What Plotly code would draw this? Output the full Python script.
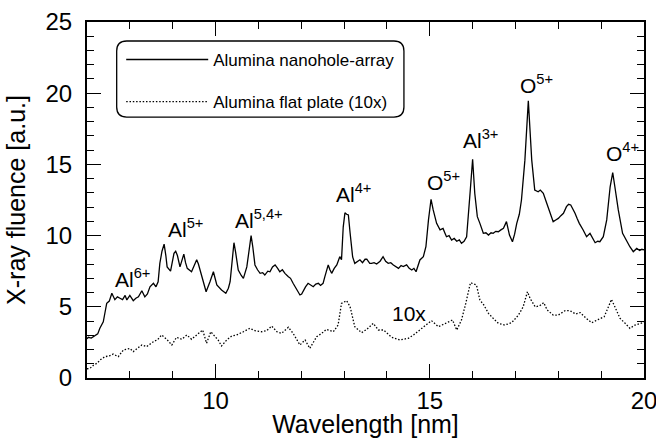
import plotly.graph_objects as go

# Alumina nanohole-array (solid)
nano_x = [7.00, 7.03, 7.10, 7.19, 7.25, 7.30, 7.38, 7.42, 7.46, 7.52, 7.58, 7.65, 7.71, 7.77, 7.83, 7.89, 7.93,
          8.00, 8.04, 8.08, 8.14, 8.20, 8.28, 8.35, 8.41, 8.47, 8.55, 8.61, 8.66, 8.70, 8.75, 8.80, 8.84, 8.87,
          8.95, 9.03, 9.07, 9.11, 9.17, 9.22, 9.26, 9.30, 9.34, 9.44, 9.50, 9.56, 9.60, 9.64, 9.70, 9.78, 9.87,
          9.95, 10.03, 10.10, 10.14, 10.24, 10.30, 10.34, 10.38, 10.43, 10.47, 10.53, 10.60, 10.65, 10.73, 10.78,
          10.83, 10.87, 10.92, 10.98, 11.04, 11.10, 11.15, 11.22, 11.27, 11.33, 11.39, 11.45, 11.50, 11.56, 11.62,
          11.70, 11.75, 11.81, 11.88, 11.93, 11.97, 12.01, 12.05, 12.10, 12.16, 12.22, 12.28, 12.34, 12.40, 12.45,
          12.51, 12.55, 12.59, 12.63, 12.67, 12.71, 12.77, 12.83, 12.90, 12.94, 12.98, 13.02, 13.06, 13.10, 13.14,
          13.20, 13.25, 13.31, 13.37, 13.43, 13.49, 13.53, 13.60, 13.64, 13.70, 13.76, 13.84, 13.91, 13.97, 14.03,
          14.09, 14.15, 14.21, 14.27, 14.33, 14.38, 14.46, 14.52, 14.58, 14.63, 14.68, 14.73, 14.77, 14.85, 14.91,
          14.97, 15.03, 15.08, 15.12, 15.16, 15.24, 15.31, 15.35, 15.39, 15.45, 15.51, 15.57, 15.63, 15.69, 15.74,
          15.80, 15.86, 15.94, 16.00, 16.05, 16.11, 16.17, 16.25, 16.31, 16.37, 16.43, 16.48, 16.54, 16.60, 16.66,
          16.72, 16.79, 16.86, 16.93, 16.98, 17.03, 17.09, 17.14, 17.22, 17.30, 17.38, 17.45, 17.53, 17.58, 17.65,
          17.73, 17.81, 17.88, 17.94, 18.00, 18.06, 18.12, 18.19, 18.24, 18.29, 18.34, 18.39, 18.44, 18.49, 18.58,
          18.66, 18.74, 18.80, 18.86, 18.92, 18.97, 19.05, 19.13, 19.21, 19.27, 19.32, 19.40, 19.50, 19.60, 19.67,
          19.75, 19.83, 19.90, 19.95, 20.00]
nano_y = [2.75, 2.86, 2.80, 3.00, 3.10, 3.50, 3.95, 4.60, 5.24, 5.40, 5.95, 5.50, 5.70, 5.60, 5.50, 5.80, 5.48,
          5.80, 5.60, 5.43, 5.60, 5.70, 6.13, 5.70, 5.90, 6.40, 6.65, 6.40, 6.76, 8.05, 8.90, 9.40, 8.60, 7.80,
          7.50, 8.75, 8.90, 8.60, 7.80, 8.30, 8.70, 8.10, 7.70, 7.46, 7.90, 8.30, 8.00, 7.60, 7.00, 6.06, 6.76,
          7.46, 6.53, 6.30, 6.18, 5.95, 6.30, 6.76, 8.20, 9.50, 8.80, 7.58, 7.20, 7.00, 7.80, 9.00,
          10.00, 9.20, 7.94, 7.60, 7.35, 7.40, 7.23, 7.50, 7.46, 7.80, 7.94, 7.70, 7.46, 7.60, 7.35,
          7.11, 7.00, 6.65, 6.30, 6.00, 5.83, 5.90, 6.18, 6.40, 6.65, 6.50, 6.41, 6.60, 6.65, 6.50,
          6.65, 7.10, 7.58, 7.94, 7.60, 7.35, 7.70, 7.94, 8.52, 8.30, 10.60, 11.60, 11.50, 11.45, 10.20,
          8.50, 8.05, 8.20, 8.30, 8.10, 8.34, 8.34, 8.05, 8.05, 8.10, 8.00, 8.20, 8.52, 8.20, 8.05,
          8.10, 7.94, 7.80, 7.70, 7.90, 7.82, 7.94, 7.70, 7.58, 7.70, 7.46, 7.90, 8.29, 8.52, 9.22,
          11.10, 12.55, 11.80, 11.30, 10.86, 10.40, 10.50, 10.20, 9.92, 10.00, 9.69, 9.80, 9.60, 9.70, 9.46,
          9.60, 9.92, 12.97, 15.36, 12.97, 11.33, 10.86, 10.16, 10.20, 10.04, 10.20, 10.16, 10.30, 10.27, 10.40,
          10.51, 10.98, 10.04, 9.57, 10.10, 10.86, 11.50, 12.50, 15.30, 19.47, 15.30, 13.20, 13.08, 13.20, 12.97,
          12.27, 11.57, 10.98, 11.10, 11.21, 11.40, 11.57, 12.03, 12.20, 12.15, 11.90, 11.57, 11.20, 10.86, 10.39,
          9.92, 10.16, 9.80, 9.50, 9.60, 9.57, 9.92, 11.10, 13.43, 14.42, 13.43, 11.80, 10.16, 9.57, 9.22,
          8.87, 9.10, 8.95, 9.04, 9.00]

# Alumina flat plate, x10 (dotted)
flat_x = [7.00, 7.07, 7.15, 7.23, 7.32, 7.42, 7.52, 7.61, 7.73, 7.85, 8.00, 8.08, 8.18, 8.28, 8.39, 8.47, 8.55,
          8.65, 8.74, 8.86, 8.98, 9.09, 9.21, 9.33, 9.44, 9.56, 9.70, 9.79, 9.89, 9.99, 10.06, 10.14, 10.26,
          10.38, 10.49, 10.65, 10.80, 10.92, 11.08, 11.19, 11.31, 11.43, 11.54, 11.70, 11.81, 11.97, 12.09,
          12.20, 12.36, 12.48, 12.59, 12.75, 12.86, 12.94, 13.06, 13.14, 13.25, 13.41, 13.53, 13.68, 13.80,
          13.92, 14.11, 14.30, 14.50, 14.62, 14.77, 14.93, 15.04, 15.20, 15.35, 15.53, 15.63, 15.74, 15.84,
          15.95, 16.09, 16.17, 16.26, 16.37, 16.48, 16.60, 16.75, 16.91, 17.07, 17.18, 17.28, 17.34, 17.46,
          17.56, 17.66, 17.74, 17.88, 18.00, 18.16, 18.27, 18.41, 18.51, 18.65, 18.78, 18.94, 19.07, 19.17,
          19.24, 19.32, 19.44, 19.56, 19.67, 19.79, 19.90, 20.00]
flat_y = [0.65, 0.68, 0.90, 1.03, 1.30, 1.50, 1.55, 1.68, 1.50, 1.97, 2.08, 1.85, 2.10, 2.32, 2.20, 2.40, 2.55,
          2.70, 3.02, 2.72, 2.32, 2.86, 2.72, 3.02, 2.72, 3.02, 3.37, 2.44, 3.25, 2.90, 2.67, 2.25, 2.67,
          2.95, 3.02, 3.25, 3.49, 3.32, 3.25, 3.32, 3.65, 3.25, 3.14, 3.56, 3.14, 2.32, 2.67,
          2.08, 2.90, 3.14, 3.42, 3.25, 3.72, 5.24, 5.43, 5.00, 3.60, 3.18, 3.42, 3.84, 3.37,
          3.37, 2.86, 2.67, 2.79, 3.02, 3.37, 3.79, 4.03, 3.60, 3.79, 4.07, 3.37, 4.07, 5.24,
          6.69, 6.53, 5.48, 5.13, 4.54, 4.19, 3.84, 3.72, 3.88, 4.42, 5.00, 6.06, 5.60, 5.00,
          5.06, 5.29, 4.78, 4.42, 4.42, 4.73, 4.73, 4.49, 4.59, 4.19, 3.88, 4.12, 4.30, 5.00,
          5.52, 5.00, 4.19, 3.84, 3.49, 3.72, 3.84, 3.90]

series_names = ["Alumina nanohole-array", "Alumina flat plate (10x)"]
peak_labels = ["Al<sup>6+</sup>", "Al<sup>5+</sup>", "Al<sup>5,4+</sup>", "Al<sup>4+</sup>",
               "O<sup>5+</sup>", "Al<sup>3+</sup>", "O<sup>5+</sup>", "O<sup>4+</sup>", "10x"]
peak_x = [8.06, 9.29, 11.02, 13.23, 15.31, 16.18, 17.49, 19.50, 14.51]
peak_y = [6.72, 10.28, 10.86, 12.69, 13.55, 16.52, 20.34, 15.59, 4.54]

FONT = "Liberation Sans, Arial, Helvetica, sans-serif"

fig = go.Figure()
fig.add_trace(go.Scatter(x=nano_x, y=nano_y, mode="lines", name=series_names[0],
                         line=dict(color="black", width=1.3), legendgroup="a"))
fig.add_trace(go.Scatter(x=flat_x, y=flat_y, mode="lines", name=series_names[1],
                         line=dict(color="black", width=1.3, dash="1.5px,1.8px"), legendgroup="b"))

for lbl, xx, yy in zip(peak_labels, peak_x, peak_y):
    fig.add_annotation(x=xx, y=yy, text=lbl, showarrow=False, xanchor="center", yanchor="middle",
                       yshift=4 if "sup" in lbl else 0,
                       font=dict(family=FONT, size=21, color="black"))

# rounded legend frame (paper coords)
x0, x1, y0, y1 = 0.0533, 0.569, 0.733, 0.9466
rx, ry = 10 / 557, 10 / 356
path = (f"M{x0+rx},{y1} L{x1-rx},{y1} Q{x1},{y1} {x1},{y1-ry} L{x1},{y0+ry} Q{x1},{y0} {x1-rx},{y0} "
        f"L{x0+rx},{y0} Q{x0},{y0} {x0},{y0+ry} L{x0},{y1-ry} Q{x0},{y1} {x0+rx},{y1} Z")
fig.add_shape(type="path", path=path, xref="paper", yref="paper",
              line=dict(color="black", width=1.3), fillcolor="rgba(0,0,0,0)", layer="above")

axis_common = dict(showline=True, linecolor="black", linewidth=2, mirror="allticks",
                   ticks="inside", ticklen=14, tickwidth=1, tickcolor="black",
                   showgrid=False, zeroline=False, automargin=False, ticklabeloverflow="allow",
                   tickfont=dict(family=FONT, size=24, color="black"),
                   minor=dict(ticks="inside", ticklen=7, tickwidth=1, tickcolor="black", dtick=1, showgrid=False))

fig.update_xaxes(range=[7, 20], tick0=0, dtick=5, ticklabelstandoff=0,
                 title=dict(text="Wavelength [nm]", font=dict(family=FONT, size=25, color="black"), standoff=5),
                 **axis_common)
fig.update_yaxes(range=[0, 25], tick0=0, dtick=5, ticklabelstandoff=8,
                 title=dict(text="X-ray fluence [a.u.]", font=dict(family=FONT, size=25, color="black"), standoff=13),
                 **axis_common)

fig.update_layout(width=656, height=438, margin=dict(l=87, r=12, t=22, b=60, autoexpand=False),
                  paper_bgcolor="white", plot_bgcolor="white",
                  font=dict(family=FONT, color="black"),
                  showlegend=True,
                  legend=dict(x=0.0614, y=0.944, xanchor="left", yanchor="top", bgcolor="rgba(0,0,0,0)",
                              borderwidth=0, itemwidth=82, tracegroupgap=17, traceorder="grouped",
                              font=dict(family=FONT, size=17, color="black")))

fig.write_html("out.html", config={"displayModeBar": False},
               post_script="document.body.style.margin='0';")
